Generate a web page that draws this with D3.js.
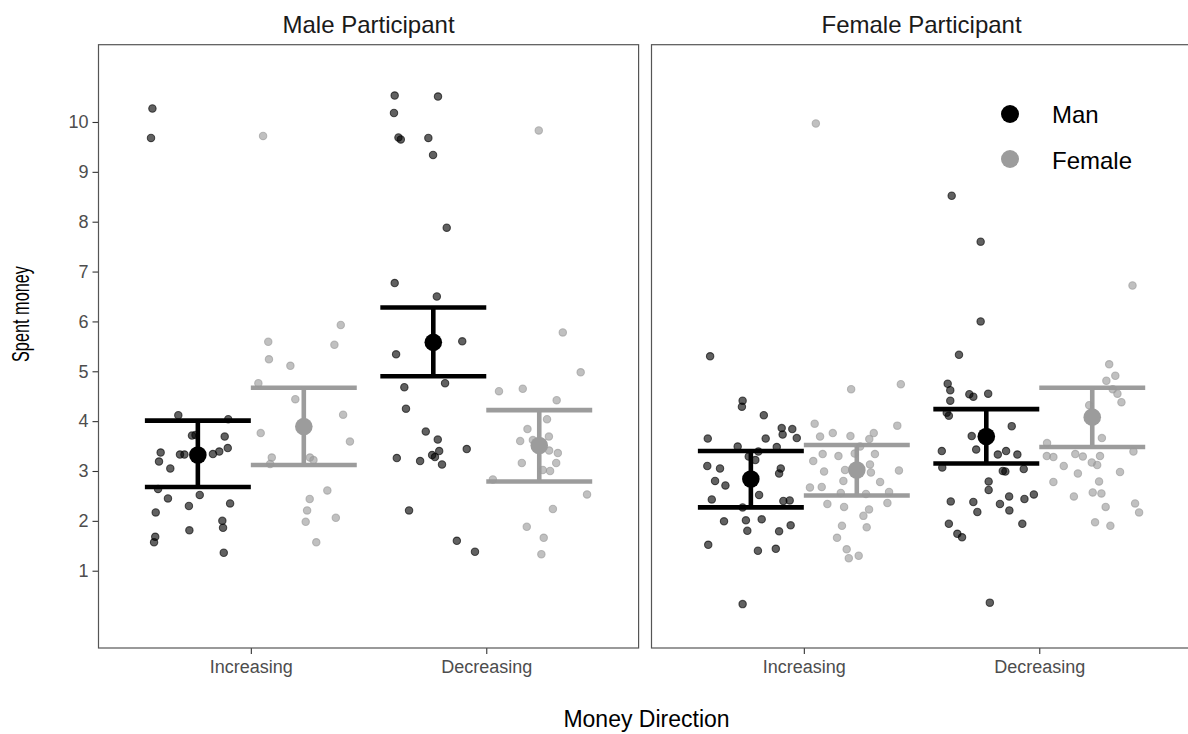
<!DOCTYPE html>
<html>
<head>
<meta charset="utf-8">
<script src="https://cdn.jsdelivr.net/npm/d3@7"></script>
<style>
  html, body { margin: 0; padding: 0; background: #fff; }
  svg { display: block; font-family: "Liberation Sans", Arial, Helvetica, sans-serif; }
</style>
</head>
<body>
<script>
// ---- data -------------------------------------------------------------
const panelTitles = ["Male Participant", "Female Participant"];
const categories = ["Increasing", "Decreasing"];
const groups = ["Man", "Female"];
const yTicks = [1, 2, 3, 4, 5, 6, 7, 8, 9, 10];

// individual observations: [jittered x on the category axis (1 = Increasing, 2 = Decreasing), spent money]
const maleParticipantMan = [
  [0.582, 10.27], [0.576, 9.68], [0.692, 4.12], [0.904, 4.04], [0.750, 3.71], [0.889, 3.69],
  [0.617, 3.37], [0.610, 3.19], [0.658, 3.05], [0.699, 3.33], [0.718, 3.33], [0.839, 3.34],
  [0.866, 3.39], [0.902, 3.46], [0.606, 2.64], [0.648, 2.45], [0.783, 2.52], [0.737, 2.30],
  [0.912, 2.35], [0.596, 2.17], [0.879, 2.00], [0.882, 1.86], [0.739, 1.81], [0.594, 1.68],
  [0.589, 1.57], [0.885, 1.36], [0.765, 3.72],
  [1.611, 10.53], [1.795, 10.51], [1.608, 10.18], [1.627, 9.69], [1.637, 9.65], [1.754, 9.68],
  [1.774, 9.34], [1.832, 7.88], [1.611, 6.77], [1.790, 6.50], [1.898, 5.60], [1.617, 5.34],
  [1.825, 4.76], [1.652, 4.68], [1.659, 4.25], [1.743, 3.79], [1.794, 3.63], [1.800, 3.40],
  [1.917, 3.44], [1.770, 3.32], [1.782, 3.28], [1.620, 3.26], [1.719, 3.20], [1.812, 3.13],
  [1.672, 2.21], [1.875, 1.60], [1.952, 1.38]
];
const maleParticipantFemale = [
  [1.052, 9.72], [1.382, 5.93], [1.074, 5.59], [1.355, 5.53], [1.077, 5.24], [1.168, 5.11],
  [1.032, 4.76], [1.189, 4.44], [1.392, 4.13], [1.042, 3.76], [1.421, 3.59], [1.089, 3.27],
  [1.082, 3.14], [1.251, 3.27], [1.266, 3.22], [1.325, 2.61], [1.250, 2.44], [1.239, 2.21],
  [1.233, 1.98], [1.361, 2.06], [1.278, 1.57],
  [2.223, 9.83], [2.325, 5.78], [2.401, 4.98], [2.054, 4.60], [2.155, 4.65], [2.299, 4.42],
  [2.258, 4.04], [2.175, 3.84], [2.144, 3.60], [2.198, 3.62], [2.266, 3.69], [2.267, 3.41],
  [2.304, 3.36], [2.151, 3.16], [2.297, 3.16], [2.240, 3.02], [2.271, 3.00], [2.028, 2.83],
  [2.428, 2.53], [2.283, 2.24], [2.172, 1.88], [2.244, 1.66], [2.234, 1.33]
];
const femaleParticipantMan = [
  [0.602, 5.30], [0.740, 4.41], [0.737, 4.29], [0.830, 4.12], [0.592, 3.65], [0.719, 3.49],
  [0.838, 3.65], [0.906, 3.86], [0.910, 3.73], [0.951, 3.84], [0.970, 3.66], [0.885, 3.48],
  [0.807, 3.39], [0.766, 3.29], [0.794, 3.22], [0.590, 3.10], [0.644, 3.05], [0.902, 3.05],
  [0.895, 2.95], [0.623, 2.80], [0.667, 2.71], [0.810, 2.52], [0.609, 2.43], [0.913, 2.40],
  [0.940, 2.41], [0.740, 2.27], [0.661, 1.99], [0.754, 2.01], [0.821, 2.03], [0.944, 1.91],
  [0.760, 1.80], [0.895, 1.79], [0.594, 1.52], [0.805, 1.40], [0.881, 1.44], [0.740, 0.33],
  [1.628, 8.52], [1.751, 7.60], [1.751, 6.00], [1.659, 5.33], [1.611, 4.75], [1.622, 4.62],
  [1.622, 4.41], [1.703, 4.54], [1.720, 4.49], [1.783, 4.55], [1.607, 4.17], [1.616, 4.11],
  [1.883, 3.90], [1.713, 3.70], [1.586, 3.40], [1.732, 3.43], [1.824, 3.33], [1.859, 3.40],
  [1.907, 3.33], [1.588, 3.07], [1.845, 3.00], [1.856, 2.99], [1.934, 3.04], [1.785, 2.79],
  [1.785, 2.62], [1.624, 2.39], [1.720, 2.38], [1.737, 2.18], [1.833, 2.34], [1.872, 2.49],
  [1.873, 2.21], [1.937, 2.44], [1.977, 2.53], [1.616, 1.94], [1.652, 1.74], [1.672, 1.67],
  [1.928, 1.94], [1.790, 0.36]
];
const femaleParticipantFemale = [
  [1.051, 9.97], [1.412, 4.74], [1.201, 4.64], [1.046, 3.95], [1.397, 3.91], [1.123, 3.76],
  [1.069, 3.69], [1.198, 3.70], [1.297, 3.76], [1.278, 3.64], [1.239, 3.49], [1.080, 3.34],
  [1.147, 3.30], [1.216, 3.35], [1.302, 3.34], [1.040, 3.20], [1.281, 3.13], [1.086, 2.99],
  [1.175, 3.02], [1.285, 2.97], [1.404, 3.01], [1.168, 2.80], [1.324, 2.78], [1.026, 2.67],
  [1.076, 2.68], [1.157, 2.56], [1.264, 2.54], [1.362, 2.58], [1.100, 2.34], [1.171, 2.28],
  [1.355, 2.36], [1.277, 2.23], [1.253, 2.10], [1.162, 1.90], [1.267, 1.87], [1.141, 1.66],
  [1.182, 1.43], [1.191, 1.25], [1.233, 1.30],
  [2.396, 6.72], [2.297, 5.14], [2.323, 4.91], [2.285, 4.81], [2.312, 4.64], [2.332, 4.55],
  [2.349, 4.38], [2.212, 4.32], [2.266, 3.66], [2.033, 3.56], [2.032, 3.30], [2.060, 3.28],
  [2.104, 3.10], [2.153, 3.34], [2.185, 3.29], [2.258, 3.30], [2.223, 3.17], [2.246, 3.12],
  [2.400, 3.39], [2.164, 2.95], [2.343, 2.98], [2.060, 2.78], [2.254, 2.79], [2.147, 2.49],
  [2.227, 2.57], [2.264, 2.55], [2.282, 2.28], [2.407, 2.35], [2.424, 2.17], [2.237, 1.97],
  [2.302, 1.90]
];

// group summaries per category (Increasing, Decreasing): mean with interval bounds
const maleParticipantManMean = [3.32, 5.58];
const maleParticipantManLow = [2.68, 4.90];
const maleParticipantManHigh = [4.01, 6.28];
const maleParticipantFemaleMean = [3.89, 3.51];
const maleParticipantFemaleLow = [3.12, 2.79];
const maleParticipantFemaleHigh = [4.67, 4.22];
const femaleParticipantManMean = [2.84, 3.69];
const femaleParticipantManLow = [2.27, 3.15];
const femaleParticipantManHigh = [3.40, 4.24];
const femaleParticipantFemaleMean = [3.02, 4.08];
const femaleParticipantFemaleLow = [2.51, 3.48];
const femaleParticipantFemaleHigh = [3.52, 4.67];

// ---- layout -----------------------------------------------------------
const W = 1188, H = 734;
const panelTop = 44.7, panelBottom = 648;
const panelX = [[98.5, 638.6], [651.5, 1191.6]];
const dodge = 0.225, barHalf = 0.225;
const groupColor = { Man: "#000000", Female: "#9c9c9c" };
const pointColor = { Man: "#000000", Female: "#999999" };

const panelData = [
  {
    title: panelTitles[0],
    series: [
      { group: "Man", pts: maleParticipantMan, mean: maleParticipantManMean, lo: maleParticipantManLow, hi: maleParticipantManHigh },
      { group: "Female", pts: maleParticipantFemale, mean: maleParticipantFemaleMean, lo: maleParticipantFemaleLow, hi: maleParticipantFemaleHigh }
    ]
  },
  {
    title: panelTitles[1],
    series: [
      { group: "Man", pts: femaleParticipantMan, mean: femaleParticipantManMean, lo: femaleParticipantManLow, hi: femaleParticipantManHigh },
      { group: "Female", pts: femaleParticipantFemale, mean: femaleParticipantFemaleMean, lo: femaleParticipantFemaleLow, hi: femaleParticipantFemaleHigh }
    ]
  }
];

const svg = d3.select("body").append("svg")
  .attr("width", W).attr("height", H);

const y = d3.scaleLinear().domain([-0.55, 11.55]).range([panelBottom, panelTop]);

panelData.forEach((panel, pi) => {
  const x = d3.scaleLinear().domain([0.353, 2.647]).range(panelX[pi]);
  const g = svg.append("g");

  // panel title
  g.append("text")
    .attr("x", (panelX[pi][0] + panelX[pi][1]) / 2)
    .attr("y", 33)
    .attr("text-anchor", "middle")
    .attr("font-size", 24)
    .attr("fill", "#1a1a1a")
    .text(panel.title);

  // bottom axis with category labels
  const xAxis = d3.axisBottom(x)
    .tickValues([1, 2])
    .tickFormat(d => categories[d - 1])
    .tickSize(6)
    .tickPadding(6);
  const xa = g.append("g").attr("transform", `translate(0,${panelBottom})`).call(xAxis);
  xa.select(".domain").remove();
  xa.selectAll(".tick line").attr("stroke", "#333").attr("stroke-width", 1.1);
  xa.selectAll(".tick text").attr("fill", "#4d4d4d").attr("font-size", 18)
    .attr("font-family", "Liberation Sans, Arial, sans-serif");

  if (pi === 0) {
    const yAxis = d3.axisLeft(y).tickValues(yTicks).tickSize(6).tickPadding(4);
    const ya = g.append("g").attr("transform", `translate(${panelX[0][0]},0)`).call(yAxis);
    ya.select(".domain").remove();
    ya.selectAll(".tick line").attr("stroke", "#333").attr("stroke-width", 1.1);
    ya.selectAll(".tick text").attr("fill", "#4d4d4d").attr("font-size", 18)
      .attr("font-family", "Liberation Sans, Arial, sans-serif");
  }

  const cx = (s, ci) => x(ci + 1 + (s.group === "Man" ? -dodge : dodge));

  // error bars
  panel.series.forEach(s => {
    const eb = g.append("g").attr("stroke", groupColor[s.group]).attr("stroke-width", 4.6);
    categories.forEach((c, ci) => {
      const c0 = ci + 1 + (s.group === "Man" ? -dodge : dodge);
      eb.append("line").attr("x1", x(c0 - barHalf)).attr("x2", x(c0 + barHalf))
        .attr("y1", y(s.hi[ci])).attr("y2", y(s.hi[ci]));
      eb.append("line").attr("x1", x(c0 - barHalf)).attr("x2", x(c0 + barHalf))
        .attr("y1", y(s.lo[ci])).attr("y2", y(s.lo[ci]));
      eb.append("line").attr("x1", cx(s, ci)).attr("x2", cx(s, ci))
        .attr("y1", y(s.lo[ci])).attr("y2", y(s.hi[ci]));
    });
  });

  // jittered observations
  panel.series.forEach(s => {
    g.append("g").selectAll("circle").data(s.pts).join("circle")
      .attr("cx", d => x(d[0]))
      .attr("cy", d => y(d[1]))
      .attr("r", 3.7)
      .attr("fill", pointColor[s.group]).attr("fill-opacity", 0.62)
      .attr("stroke", pointColor[s.group]).attr("stroke-opacity", 0.62)
      .attr("stroke-width", 1.1);
  });

  // group means
  panel.series.forEach(s => {
    g.append("g").selectAll("circle").data(s.mean).join("circle")
      .attr("cx", (d, ci) => cx(s, ci))
      .attr("cy", d => y(d))
      .attr("r", 8.8)
      .attr("fill", groupColor[s.group]);
  });

  // panel border
  g.append("rect")
    .attr("x", panelX[pi][0]).attr("y", panelTop)
    .attr("width", panelX[pi][1] - panelX[pi][0]).attr("height", panelBottom - panelTop)
    .attr("fill", "none").attr("stroke", "#555").attr("stroke-width", 1.2);
});

// axis titles
svg.append("text")
  .attr("x", 646.5).attr("y", 727)
  .attr("text-anchor", "middle")
  .attr("font-size", 23)
  .attr("fill", "#000")
  .text("Money Direction");

svg.append("text")
  .attr("transform", "translate(28.5,314) rotate(-90)")
  .attr("text-anchor", "middle")
  .attr("font-size", 24)
  .attr("textLength", 96)
  .attr("lengthAdjust", "spacingAndGlyphs")
  .attr("fill", "#000")
  .text("Spent money");

// legend
const legend = svg.append("g");
groups.forEach((gName, i) => {
  legend.append("circle").attr("cx", 1010).attr("cy", 114 + i * 45).attr("r", 9)
    .attr("fill", groupColor[gName]);
  legend.append("text").attr("x", 1052).attr("y", 123 + i * 45.5)
    .attr("font-size", 24).attr("fill", "#000").text(gName);
});
</script>
</body>
</html>
